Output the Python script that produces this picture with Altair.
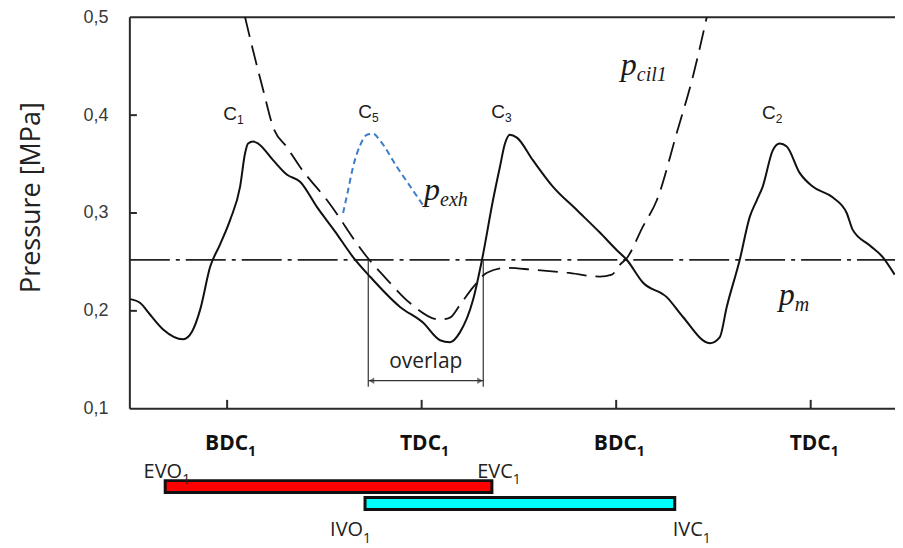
import altair as alt
import pandas as pd

# ---- data: crank angle [deg], pressure [MPa] ----
exh_angle = [90.3, 99.6, 108.8, 120.8, 139.3, 147.6, 155.0, 164.3, 173.5, 182.8,
             192.0, 196.6, 199.4, 204.0, 208.7, 222.5, 235.5, 247.5, 263.2,
             279.9, 296.5, 312.2, 340.0, 361.2, 377.0, 386.2, 395.4, 407.5, 415.8,
             426.0, 432.4, 437.1, 441.7, 448.1, 462.9, 481.4, 503.6, 524.9, 540.6,
             549.9, 564.7, 586.8, 601.6, 626.6, 635.8, 642.3, 654.3, 663.6, 670.1,
             675.6, 684.9, 691.3, 697.8, 709.8, 721.8, 740.3, 753.3, 758.8, 774.5,
             786.6, 797.7]
exh_p = [0.212, 0.208, 0.196, 0.181, 0.171, 0.179, 0.201, 0.245, 0.268, 0.293,
         0.327, 0.361, 0.371, 0.373, 0.371, 0.354, 0.339, 0.332, 0.306,
         0.281, 0.255, 0.235, 0.204, 0.188, 0.170, 0.168, 0.178, 0.211, 0.252,
         0.313, 0.347, 0.371, 0.380, 0.377, 0.354, 0.327, 0.303, 0.280, 0.262,
         0.252, 0.229, 0.214, 0.194, 0.167, 0.173, 0.204, 0.252, 0.296, 0.313,
         0.327, 0.364, 0.371, 0.368, 0.341, 0.327, 0.316, 0.300, 0.283, 0.267,
         0.255, 0.237]

cyl_angle = [196.6, 204.0, 213.3, 222.5, 235.5, 247.5, 272.5, 309.4, 327.9, 349.2,
             377.0, 386.2, 395.4, 407.5, 420.4, 438.9, 462.9, 494.4, 524.9, 536.0,
             543.4, 549.9, 564.7, 577.6, 596.1, 610.9, 623.8]
cyl_p = [0.500, 0.466, 0.426, 0.388, 0.367, 0.347, 0.313, 0.255, 0.232, 0.208,
         0.191, 0.193, 0.206, 0.224, 0.239, 0.244, 0.242, 0.239, 0.235, 0.237,
         0.247, 0.254, 0.286, 0.313, 0.382, 0.439, 0.500]

c5_angle = [287.3, 291.9, 296.5, 303.0, 309.4, 315.0, 321.5, 337.2, 352.0, 363.1]
c5_p = [0.300, 0.323, 0.347, 0.369, 0.380, 0.381, 0.374, 0.347, 0.323, 0.305]

pm_value = 0.252
x_min, x_max = 90, 798
y_ticks = [0.1, 0.2, 0.3, 0.4, 0.5]
dead_centres = [180, 360, 540, 720]
dc_names = ["BDC", "TDC", "BDC", "TDC"]

overlap_start, overlap_end = 310.6, 417.0

valve_names = ["EVO", "IVO"]
valve_open = [122.7, 307.6]
valve_close = [425.0, 594.2]

# annotation anchors (angle, pressure)
peak_names = ["C", "C", "C", "C"]
peak_subs = ["1", "5", "3", "2"]
peak_x = [189.2, 314.1, 437.1, 687.6]
peak_y = [0.395, 0.397, 0.397, 0.396]

p_subs = ["exh", "cil1", "m"]
p_x = [377.0, 559.1, 705.2]
p_y = [0.3133, 0.4408, 0.2061]

# ---- scales / encodings ----
xs = alt.Scale(domain=[x_min, x_max], nice=False, zero=False)
ys = alt.Scale(domain=[-0.04, 0.5], nice=False, zero=False)
yaxis = alt.Axis(values=y_ticks,
                 labelExpr="replace(format(datum.value, '.1f'), '.', ',')",
                 domain=False, ticks=False, grid=False,
                 labelFont="Liberation Sans", labelFontSize=18, labelColor="#3a3a3a",
                 labelPadding=22,
                 title="Pressure [MPa]", titleFont="Open Sans", titleFontSize=27,
                 titleFontWeight="normal", titleColor="#222222", titleAngle=270,
                 titleX=-98, titleY=180, titleAlign="center", titleBaseline="middle")


def X(f="x"):
    return alt.X(f"{f}:Q", scale=xs, axis=None)


def Y(f="y"):
    return alt.Y(f"{f}:Q", scale=ys, axis=yaxis)


def text_layer(df, size, align, font="Open Sans", weight="normal", style="normal", color="#1a1a1a"):
    return alt.Chart(df).mark_text(align=align, baseline="alphabetic", font=font,
                                   fontSize=size, fontWeight=weight, fontStyle=style,
                                   color=color).encode(x=X(), y=Y(), text="t:N")


layers = []

# frame: top and bottom lines, left line
hframe = pd.DataFrame({"x": [x_min, x_min], "x2": [x_max, x_max], "y": [0.5, 0.1]})
layers.append(alt.Chart(hframe).mark_rule(color="#2a2a2a", strokeWidth=2).encode(
    x=X(), x2="x2:Q", y=Y()))
vframe = pd.DataFrame({"x": [x_min], "y": [0.1], "y2": [0.5]})
layers.append(alt.Chart(vframe).mark_rule(color="#2a2a2a", strokeWidth=2).encode(
    x=X(), y=Y(), y2="y2:Q"))

# inward ticks
yt = pd.DataFrame({"y": y_ticks[1:4]})
yt["x"] = x_min
yt["x2"] = x_min + 6.5
layers.append(alt.Chart(yt).mark_rule(color="#2a2a2a", strokeWidth=2).encode(
    x=X(), x2="x2:Q", y=Y()))
xt = pd.DataFrame({"x": dead_centres})
xt["y"] = 0.1
xt["y2"] = 0.109
layers.append(alt.Chart(xt).mark_rule(color="#2a2a2a", strokeWidth=2).encode(
    x=X(), y=Y(), y2="y2:Q"))

# mean pressure line
pm = pd.DataFrame({"x": [x_min, x_max], "y": [pm_value, pm_value]})
layers.append(alt.Chart(pm).mark_line(color="#222222", strokeWidth=1.8,
                                      strokeDash=[40, 6, 4, 6]).encode(x=X(), y=Y()))

# overlap marker
ov = pd.DataFrame({"x": [overlap_start, overlap_end], "y": [pm_value, pm_value],
                   "y2": [0.1224, 0.1224]})
layers.append(alt.Chart(ov).mark_rule(color="#333333", strokeWidth=1.2).encode(
    x=X(), y=Y(), y2="y2:Q"))
ova = pd.DataFrame({"x": [overlap_start], "x2": [overlap_end], "y": [0.1286]})
layers.append(alt.Chart(ova).mark_rule(color="#333333", strokeWidth=1.2).encode(
    x=X(), x2="x2:Q", y=Y()))
heads = pd.DataFrame({"x": [overlap_start + 3, overlap_end - 3], "y": [0.1286, 0.1286],
                      "s": ["triangle-left", "triangle-right"]})
layers.append(alt.Chart(heads).mark_point(filled=True, color="#333333", size=40).encode(
    x=X(), y=Y(), shape=alt.Shape("s:N", scale=None)))
layers.append(text_layer(pd.DataFrame({"x": [(overlap_start + overlap_end) / 2],
                                       "y": [0.1418], "t": ["overlap"]}),
                         21, "center", color="#222222"))

# curves
layers.append(alt.Chart(pd.DataFrame({"x": exh_angle, "y": exh_p})).mark_line(
    color="#111111", strokeWidth=2, interpolate="monotone").encode(x=X(), y=Y()))
layers.append(alt.Chart(pd.DataFrame({"x": cyl_angle, "y": cyl_p})).mark_line(
    color="#111111", strokeWidth=1.8, strokeDash=[20, 9], interpolate="monotone").encode(
    x=X(), y=Y()))
layers.append(alt.Chart(pd.DataFrame({"x": c5_angle, "y": c5_p})).mark_line(
    color="#3d7cc9", strokeWidth=2, strokeDash=[6, 4], interpolate="monotone").encode(
    x=X(), y=Y()))

# peak labels
layers.append(text_layer(pd.DataFrame({"x": peak_x, "y": peak_y, "t": peak_names}),
                         19, "right", font="Liberation Sans"))
layers.append(text_layer(pd.DataFrame({"x": peak_x, "y": [v - 0.004 for v in peak_y],
                                       "t": peak_subs}),
                         12, "left", font="Liberation Sans"))

# italic p labels
layers.append(text_layer(pd.DataFrame({"x": p_x, "y": p_y, "t": ["p"] * 3}),
                         32, "right", font="Liberation Serif", style="italic"))
layers.append(text_layer(pd.DataFrame({"x": p_x, "y": [v - 0.006 for v in p_y],
                                       "t": p_subs}),
                         20, "left", font="Liberation Serif", style="italic"))

# dead centre labels below the axis
dc_x = [199.4, 377.9, 559.1, 738.5]
layers.append(text_layer(pd.DataFrame({"x": dc_x, "y": [0.0582] * 4, "t": dc_names}),
                         21, "right", weight="bold", color="#111111"))
layers.append(text_layer(pd.DataFrame({"x": dc_x, "y": [0.052] * 4, "t": ["1"] * 4}),
                         14, "left", weight="bold", color="#111111"))

# valve timing bars
bars = pd.DataFrame({"x": valve_open, "x2": valve_close,
                     "y": [0.0265, 0.0092], "y2": [0.0143, -0.0031],
                     "c": ["#ff0000", "#00ffff"]})
layers.append(alt.Chart(bars).mark_rect(stroke="#111111", strokeWidth=3).encode(
    x=X(), x2="x2:Q", y=Y(), y2="y2:Q", fill=alt.Fill("c:N", scale=None)))

ev_lab_x = [138.4, 444.4, 305.8, 620.1]
ev_lab_y = [0.0296, 0.0296, -0.0306, -0.0306]
ev_names = ["EVO", "EVC", "IVO", "IVC"]
layers.append(text_layer(pd.DataFrame({"x": ev_lab_x, "y": ev_lab_y, "t": ev_names}),
                         20, "right", color="#222222"))
layers.append(text_layer(pd.DataFrame({"x": ev_lab_x, "y": [v - 0.007 for v in ev_lab_y],
                                       "t": ["1"] * 4}),
                         14, "left", color="#222222"))

chart = alt.layer(*layers).properties(
    width=766, height=529,
    autosize=alt.AutoSizeParams(type="none"),
    padding={"left": 122, "top": 9, "right": 0, "bottom": 0},
).configure(background="white").configure_view(stroke=None)

chart.save("out.html", embed_options={"renderer": "svg", "actions": False})
